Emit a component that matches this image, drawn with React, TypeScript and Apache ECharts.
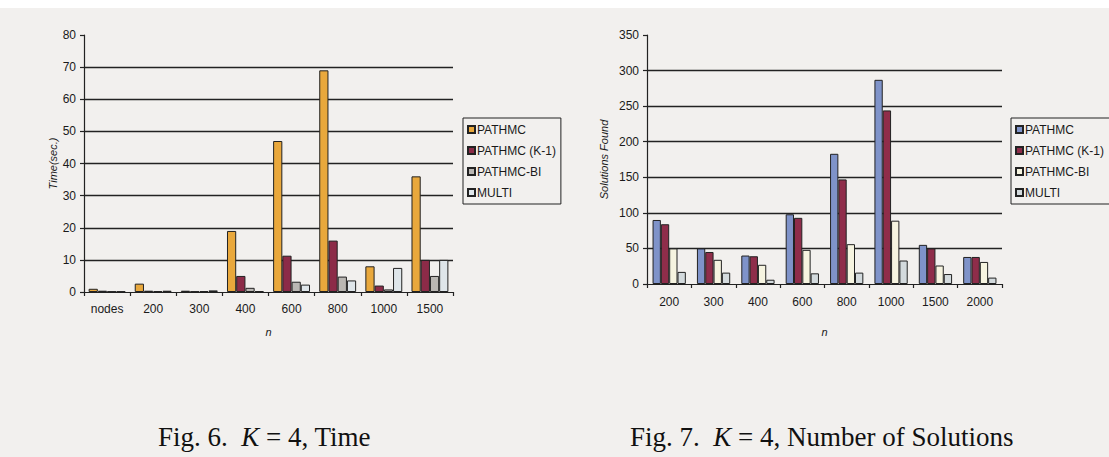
import React, { useEffect, useRef } from "react";
import * as echarts from "echarts";

const timeCategories = ["nodes", "200", "300", "400", "600", "800", "1000", "1500"];
const timePathmc = [1, 2.6, 0.4, 19, 47, 69, 8, 36];
const timePathmcK1 = [0.4, 0.4, 0.2, 5, 11.3, 16, 2, 10];
const timePathmcBi = [0.2, 0.3, 0.3, 1.3, 3.2, 4.8, 0.8, 5];
const timeMulti = [0.2, 0.4, 0.5, 0.3, 2.3, 3.6, 7.5, 10];

const solCategories = ["200", "300", "400", "600", "800", "1000", "1500", "2000"];
const solPathmc = [90, 50, 40, 98, 183, 287, 55, 38];
const solPathmcK1 = [84, 45, 39, 93, 147, 244, 50, 38];
const solPathmcBi = [50, 34, 27, 48, 56, 89, 26, 31];
const solMulti = [17, 16, 6, 15, 16, 33, 14, 9];

const seriesNames = ["PATHMC", "PATHMC (K-1)", "PATHMC-BI", "MULTI"];
const timeColors = ["#e9a83c", "#8c2b48", "#bab7b3", "#dfe6ea"];
const solColors = ["#7f93c9", "#8f2d4a", "#f6f4e0", "#d3dadd"];

const SANS = "'Liberation Sans', Arial, sans-serif";
const SERIF = "'Liberation Serif', 'Times New Roman', serif";

export default function App() {
  const ref = useRef<HTMLDivElement>(null);
  useEffect(() => {
    if (!ref.current) return;
    const chart = echarts.init(ref.current, null, { renderer: "svg" });
    const axisLabel = { color: "#1a1a1a", fontFamily: SANS, fontSize: 12 };
    const axisLine = { show: true, lineStyle: { color: "#222", width: 1.2 } };
    const axisTick = { show: true, length: 4, lineStyle: { color: "#222", width: 1.2 } };
    const splitLine = {
      show: true,
      showMinLine: false,
      showMaxLine: false,
      lineStyle: { color: "#222", width: 1.3 },
    };
    const nameStyle = { color: "#1a1a1a", fontFamily: SANS, fontSize: 11, fontStyle: "italic" };
    const mkBars = (
      data: number[][],
      colors: string[],
      axisIdx: number,
      gap: string,
      suffix: string
    ) =>
      data.map((d, i) => ({
        type: "bar",
        name: seriesNames[i] + suffix,
        xAxisIndex: axisIdx,
        yAxisIndex: axisIdx,
        data: d,
        barGap: "0%",
        barCategoryGap: gap,
        itemStyle: { color: colors[i], borderColor: "#222", borderWidth: 1 },
      }));
    const timeSeries = mkBars(
      [timePathmc, timePathmcK1, timePathmcBi, timeMulti],
      timeColors,
      0,
      "20%",
      ""
    );
    const solSeries = mkBars(
      [solPathmc, solPathmcK1, solPathmcBi, solMulti],
      solColors,
      1,
      "25%",
      " "
    );
    const legendBase = {
      orient: "vertical",
      itemWidth: 7,
      itemHeight: 7,
      itemGap: 8,
      padding: [5, 5, 5, 4],
      borderColor: "#222",
      borderWidth: 1,
      icon: "rect",
      textStyle: {
        color: "#1a1a1a",
        fontFamily: SANS,
        fontSize: 12,
        lineHeight: 13,
        padding: [0, 0, 0, -3],
      },
    };
    const caption = (text: string, left: number) => ({
      type: "text",
      left,
      top: 423,
      style: {
        text,
        fontFamily: SERIF,
        fontSize: 27,
        fill: "#111",
        rich: { i: { fontFamily: SERIF, fontSize: 27, fontStyle: "italic", fill: "#111" } },
      },
    });
    chart.setOption({
      animation: false,
      backgroundColor: "transparent",
      grid: [
        { left: 84, top: 35, width: 369, height: 257 },
        { left: 647, top: 35, width: 355, height: 249 },
      ],
      legend: [
        { ...legendBase, left: 463, top: 118, data: seriesNames },
        { ...legendBase, left: 1011, top: 118, data: seriesNames.map((n) => n + " ") },
      ],
      xAxis: [
        {
          type: "category",
          gridIndex: 0,
          data: timeCategories,
          axisLine,
          axisTick,
          axisLabel: { ...axisLabel, margin: 11 },
          name: "n",
          nameLocation: "middle",
          nameGap: 34,
          nameTextStyle: nameStyle,
        },
        {
          type: "category",
          gridIndex: 1,
          data: solCategories,
          axisLine,
          axisTick,
          axisLabel: { ...axisLabel, margin: 12 },
          name: "n",
          nameLocation: "middle",
          nameGap: 42,
          nameTextStyle: nameStyle,
        },
      ],
      yAxis: [
        {
          type: "value",
          gridIndex: 0,
          min: 0,
          max: 80,
          interval: 10,
          axisLine,
          axisTick,
          splitLine,
          axisLabel: { ...axisLabel, margin: 8 },
          name: "Time(sec.)",
          nameLocation: "middle",
          nameRotate: 90,
          nameGap: 24,
          nameTextStyle: nameStyle,
        },
        {
          type: "value",
          gridIndex: 1,
          min: 0,
          max: 350,
          interval: 50,
          axisLine,
          axisTick,
          splitLine,
          axisLabel: { ...axisLabel, margin: 8 },
          name: "Solutions Found",
          nameLocation: "middle",
          nameRotate: 90,
          nameGap: 38,
          nameTextStyle: nameStyle,
        },
      ],
      series: [...timeSeries, ...solSeries],
      graphic: [
        {
          type: "rect",
          left: 0,
          top: 0,
          shape: { width: 1109, height: 8 },
          style: { fill: "#ffffff" },
          z: -10,
        },
        caption("Fig. 6.  {i|K} = 4, Time", 158),
        caption("Fig. 7.  {i|K} = 4, Number of Solutions", 630),
      ],
    });
    return () => chart.dispose();
  }, []);
  return (
    <div
      style={{
        position: "absolute",
        left: 0,
        top: 0,
        width: 1109,
        height: 457,
        background: "#f2f0ee",
      }}
    >
      <div ref={ref} style={{ width: 1109, height: 457 }} />
    </div>
  );
}
